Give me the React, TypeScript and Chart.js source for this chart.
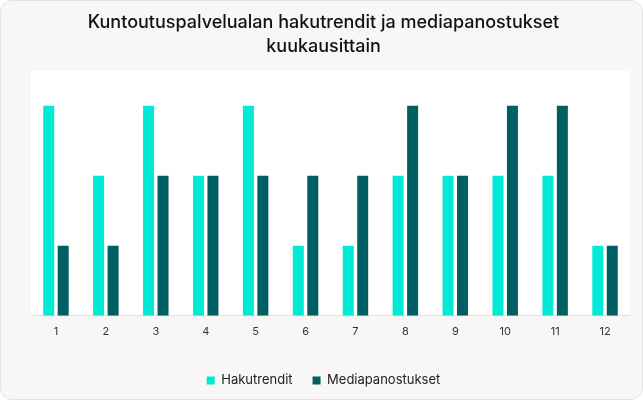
import React, { useEffect, useRef } from "react";
import { Chart, registerables } from "chart.js";

Chart.register(...registerables);

const months = ["1", "2", "3", "4", "5", "6", "7", "8", "9", "10", "11", "12"];
const hakutrendit = [3, 2, 3, 2, 3, 1, 1, 2, 2, 2, 2, 1];
const mediapanostukset = [1, 1, 2, 2, 2, 2, 2, 3, 2, 3, 3, 1];
const titleLines = ["Kuntoutuspalvelualan hakutrendit ja mediapanostukset", "kuukausittain"];

const FONT = "Inter, 'Noto Sans', sans-serif";

const chartAreaBg = {
  id: "chartAreaBg",
  beforeDraw(chart: any) {
    const { ctx, chartArea } = chart;
    if (!chartArea) return;
    ctx.save();
    ctx.fillStyle = "#ffffff";
    ctx.fillRect(chartArea.left, chartArea.top, chartArea.right - chartArea.left, chartArea.bottom - chartArea.top);
    ctx.restore();
  },
};

export default function App() {
  const ref = useRef<HTMLCanvasElement | null>(null);

  useEffect(() => {
    document.body.style.margin = "0";
    if (!ref.current) return;
    const chart = new Chart(ref.current, {
      type: "bar",
      data: {
        labels: months,
        datasets: [
          {
            label: "Hakutrendit",
            data: hakutrendit,
            backgroundColor: "#00ead6",
            borderWidth: 0,
            categoryPercentage: 0.58,
            barPercentage: 0.76,
          },
          {
            label: "Mediapanostukset",
            data: mediapanostukset,
            backgroundColor: "#005f62",
            borderWidth: 0,
            categoryPercentage: 0.58,
            barPercentage: 0.76,
          },
        ],
      },
      options: {
        animation: false,
        responsive: false,
        maintainAspectRatio: false,
        layout: { padding: { left: 16, right: 12, top: 0, bottom: 2 } },
        plugins: {
          title: {
            display: true,
            text: titleLines,
            color: "#111111",
            font: { family: FONT, size: 18, weight: "500", lineHeight: 1.33 },
            padding: { top: 10, bottom: 12 },
          },
          legend: {
            position: "bottom",
            labels: {
              color: "#222222",
              font: { family: FONT, size: 13 },
              boxWidth: 8,
              boxHeight: 8,
              padding: 20,
            },
          },
          tooltip: { enabled: false },
        },
        scales: {
          x: {
            grid: { display: false, drawTicks: false, tickLength: 0 },
            border: { display: true, color: "#e2e2e2", width: 1 },
            ticks: { color: "#333333", font: { family: FONT, size: 11 }, padding: 9 },
            afterFit: (scale: any) => {
              scale.height += 7;
            },
          },
          y: {
            display: true,
            min: 0,
            max: 3.5,
            grid: { display: false, drawTicks: false },
            border: { display: false },
            ticks: { display: false },
            afterFit: (scale: any) => {
              scale.width = 14;
            },
          },
        },
      },
      plugins: [chartAreaBg],
    });
    return () => chart.destroy();
  }, []);

  return (
    <div
      style={{
        width: 643,
        height: 400,
        boxSizing: "border-box",
        border: "1px solid #e2e2e2",
        borderRadius: 12,
        background: "#f8f7f5",
        overflow: "hidden",
      }}
    >
      <canvas ref={ref} width={641} height={398} style={{ display: "block", width: 641, height: 398 }} />
    </div>
  );
}
